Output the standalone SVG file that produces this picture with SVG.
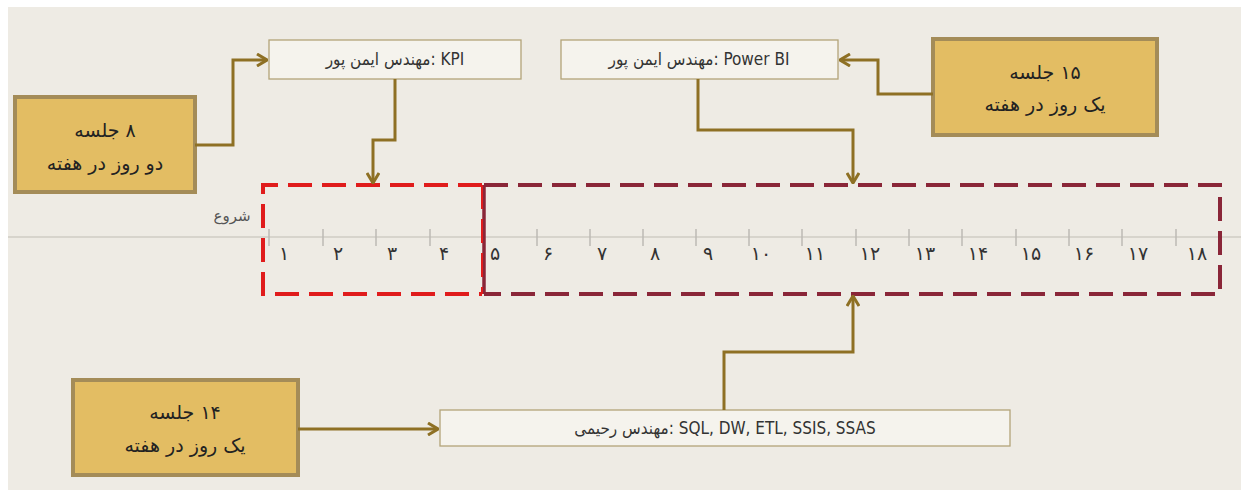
<svg xmlns="http://www.w3.org/2000/svg" width="1241" height="492" viewBox="0 0 1241 492">
<style>
.bg{fill:#eeebe4}
.gold{fill:#e3bd63;stroke:#a48c58;stroke-width:4}
.wbox{fill:#f5f3ed;stroke:#b3a478;stroke-width:1.3}
.conn{fill:none;stroke:#8e7024;stroke-width:3}
.gt{font-family:"DejaVu Sans",sans-serif;font-size:19px;fill:#222;text-anchor:middle}
.wt{font-family:"DejaVu Sans Condensed","DejaVu Sans",sans-serif;font-stretch:condensed;font-size:17px;fill:#333;text-anchor:middle}
.num{font-family:"DejaVu Sans",sans-serif;font-size:19px;fill:#333;text-anchor:middle}
.tick{stroke:#bcbab4;stroke-width:1.5}
.red{fill:none;stroke:#e01c1c;stroke-width:4;stroke-dasharray:24 10}
.mar{fill:none;stroke:#8a2638;stroke-width:4;stroke-dasharray:24 10}
</style>
<defs>
<marker id="arr" viewBox="0 0 12 14" refX="11" refY="7" markerWidth="12" markerHeight="14" markerUnits="userSpaceOnUse" orient="auto">
<path d="M1,1 L11,7 L1,13" fill="none" stroke="#8e7024" stroke-width="3"/>
</marker>
</defs>
<rect class="bg" x="8" y="7" width="1233" height="483"/>
<g id="timeline">
<line x1="8" y1="237" x2="1241" y2="237" stroke="#cfccc5" stroke-width="1.5"/>
<g>
<line class="tick" x1="269" y1="229" x2="269" y2="246"/>
<line class="tick" x1="323" y1="229" x2="323" y2="246"/>
<line class="tick" x1="376" y1="229" x2="376" y2="246"/>
<line class="tick" x1="430" y1="229" x2="430" y2="246"/>
<line class="tick" x1="537" y1="229" x2="537" y2="246"/>
<line class="tick" x1="590" y1="229" x2="590" y2="246"/>
<line class="tick" x1="643" y1="229" x2="643" y2="246"/>
<line class="tick" x1="696" y1="229" x2="696" y2="246"/>
<line class="tick" x1="749" y1="229" x2="749" y2="246"/>
<line class="tick" x1="802" y1="229" x2="802" y2="246"/>
<line class="tick" x1="856" y1="229" x2="856" y2="246"/>
<line class="tick" x1="909" y1="229" x2="909" y2="246"/>
<line class="tick" x1="962" y1="229" x2="962" y2="246"/>
<line class="tick" x1="1016" y1="229" x2="1016" y2="246"/>
<line class="tick" x1="1069" y1="229" x2="1069" y2="246"/>
<line class="tick" x1="1122" y1="229" x2="1122" y2="246"/>
<line class="tick" x1="1176" y1="229" x2="1176" y2="246"/>
</g>
<text x="232" y="221" font-family="DejaVu Sans,sans-serif" font-size="15" fill="#555" text-anchor="middle">شروع</text>
<text class="num" x="284" y="260">۱</text>
<text class="num" x="338" y="260">۲</text>
<text class="num" x="392" y="260">۳</text>
<text class="num" x="444" y="260">۴</text>
<text class="num" x="495" y="260">۵</text>
<text class="num" x="548" y="260">۶</text>
<text class="num" x="602" y="260">۷</text>
<text class="num" x="655" y="260">۸</text>
<text class="num" x="708" y="260">۹</text>
<text class="num" x="761" y="260">۱۰</text>
<text class="num" x="815" y="260">۱۱</text>
<text class="num" x="870" y="260">۱۲</text>
<text class="num" x="925" y="260">۱۳</text>
<text class="num" x="978" y="260">۱۴</text>
<text class="num" x="1031" y="260">۱۵</text>
<text class="num" x="1084" y="260">۱۶</text>
<text class="num" x="1138" y="260">۱۷</text>
<text class="num" x="1197" y="260">۱۸</text>
</g>
<g id="phase2">
<path class="mar" d="M484,185 H1220 V294 H484"/>
<line x1="484" y1="185" x2="484" y2="294" stroke="#8a2638" stroke-width="3.5"/>
</g>
<g id="phase1">
<path class="red" d="M482,185 H263 V294 H482"/>
<line x1="482" y1="185" x2="482" y2="294" stroke="#e01c1c" stroke-width="2" stroke-dasharray="24 10"/>
</g>
<g id="nodeA">
<rect class="gold" x="15" y="97" width="180" height="95"/>
<text class="gt" x="105" y="137" direction="rtl">۸ جلسه</text>
<text class="gt" x="105" y="170" direction="rtl">دو روز در هفته</text>
</g>
<g id="nodeKPI">
<rect class="wbox" x="269" y="40" width="252" height="39"/>
<text class="wt" x="395" y="65" direction="rtl">KPI :مهندس ایمن پور</text>
</g>
<g id="nodePBI">
<rect class="wbox" x="561" y="40" width="277" height="39"/>
<text class="wt" x="699" y="65" direction="rtl">Power BI :مهندس ایمن پور</text>
</g>
<g id="nodeB">
<rect class="gold" x="933" y="39" width="224" height="96"/>
<text class="gt" x="1045" y="79" direction="rtl">۱۵ جلسه</text>
<text class="gt" x="1045" y="111" direction="rtl">یک روز در هفته</text>
</g>
<g id="nodeC">
<rect class="gold" x="73" y="380" width="225" height="95"/>
<text class="gt" x="185" y="419" direction="rtl">۱۴ جلسه</text>
<text class="gt" x="185" y="452" direction="rtl">یک روز در هفته</text>
</g>
<g id="nodeSQL">
<rect class="wbox" x="440" y="410" width="570" height="36"/>
<text class="wt" x="725" y="434" direction="rtl">SQL, DW, ETL, SSIS, SSAS :مهندس رحیمی</text>
</g>
<g id="connectors">
<path class="conn" d="M195,145 H233 V60 H267" marker-end="url(#arr)"/>
<path class="conn" d="M395,79 V140 H373 V183" marker-end="url(#arr)"/>
<path class="conn" d="M698,79 V130 H853 V183" marker-end="url(#arr)"/>
<path class="conn" d="M933,94 H878 V60 H840" marker-end="url(#arr)"/>
<path class="conn" d="M298,429 H438" marker-end="url(#arr)"/>
<path class="conn" d="M724,410 V352 H853 V296" marker-end="url(#arr)"/>
</g>
</svg>
